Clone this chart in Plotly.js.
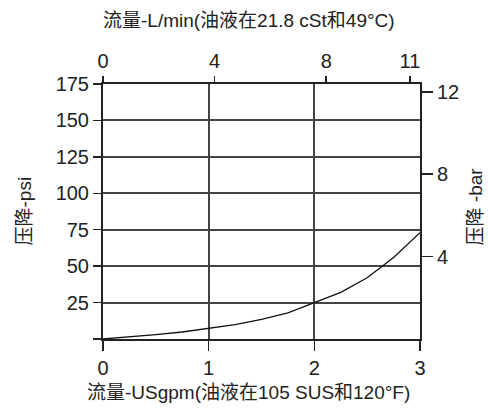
<!DOCTYPE html>
<html><head><meta charset="utf-8">
<script src="https://cdn.plot.ly/plotly-3.0.1.min.js"></script>
<style>html,body{margin:0;padding:0;background:#fff}</style>
</head><body><div id="c" style="width:488px;height:414px"></div>
<script>
const flowGpm = [0, 0.25, 0.5, 0.75, 1, 1.25, 1.5, 1.75, 2, 2.25, 2.5, 2.75, 3];
const dropPsi = [0, 1.3, 3, 4.8, 7.5, 9.8, 13.5, 18, 25, 32, 42, 56, 73];
const psiTicks = [0, 25, 50, 75, 100, 125, 150, 175];
const psiLabels = ["", "25", "50", "75", "100", "125", "150", "175"];
const gpmTicks = [0, 1, 2, 3];
const lpmTicks = [0, 4, 8, 11];
const barTicks = [4, 8, 12];
const titleTop = "流量-L/min(油液在21.8 cSt和49°C)";
const titleBottom = "流量-USgpm(油液在105 SUS和120°F)";
const titleLeft = "压降-psi";
const titleRight = "压降 -bar";

const F = "Liberation Sans, Arial, Noto Sans CJK SC, sans-serif";
const traces = [
  {x: flowGpm, y: dropPsi, mode: "lines", line: {color: "#111", width: 1.3}, xaxis: "x", yaxis: "y", hoverinfo: "skip"},
  {x: [0, 11.36], y: [0, 12.38], mode: "markers", marker: {opacity: 0}, xaxis: "x2", yaxis: "y2", hoverinfo: "skip"}
];
const ax = {showline: true, linecolor: "#222", linewidth: 2, ticks: "outside", tickwidth: 1.5, tickcolor: "#222",
  zeroline: false, tickfont: {family: F, size: 20, color: "#222"}};
const layout = {
  width: 488, height: 414, showlegend: false,
  margin: {l: 103, r: 68, t: 84, b: 75},
  paper_bgcolor: "#fff", plot_bgcolor: "#fff",
  font: {family: F, color: "#222", size: 20},
  xaxis: Object.assign({}, ax, {range: [0, 3], tickvals: gpmTicks, showgrid: true, gridcolor: "#444", gridwidth: 2, ticklen: 10}),
  xaxis2: Object.assign({}, ax, {range: [0, 11.36], tickvals: lpmTicks, overlaying: "x", side: "top", showgrid: false, ticklen: 6}),
  yaxis: Object.assign({}, ax, {range: [0, 175], tickvals: psiTicks, ticktext: psiLabels, showgrid: true, gridcolor: "#444", gridwidth: 2, ticklen: 8}),
  yaxis2: Object.assign({}, ax, {range: [0, 12.38], tickvals: barTicks, overlaying: "y", side: "right", showgrid: false, ticklen: 11}),
  annotations: [
    {text: titleTop, xref: "paper", yref: "paper", x: 0.46, y: 1, yshift: 64, showarrow: false, xanchor: "center", yanchor: "middle", font: {family: F, size: 19, color: "#222"}},
    {text: titleBottom, xref: "paper", yref: "paper", x: 0.46, y: 0, yshift: -53, showarrow: false, xanchor: "center", yanchor: "middle", font: {family: F, size: 19, color: "#222"}},
    {text: titleLeft, xref: "paper", yref: "paper", x: 0, xshift: -79, y: 0.5, textangle: -90, showarrow: false, xanchor: "center", yanchor: "middle", font: {family: F, size: 19, color: "#222"}},
    {text: titleRight, xref: "paper", yref: "paper", x: 1, xshift: 55, y: 0.52, textangle: -90, showarrow: false, xanchor: "center", yanchor: "middle", font: {family: F, size: 19, color: "#222"}}
  ]
};
Plotly.newPlot("c", traces, layout, {staticPlot: true});
</script></body></html>
